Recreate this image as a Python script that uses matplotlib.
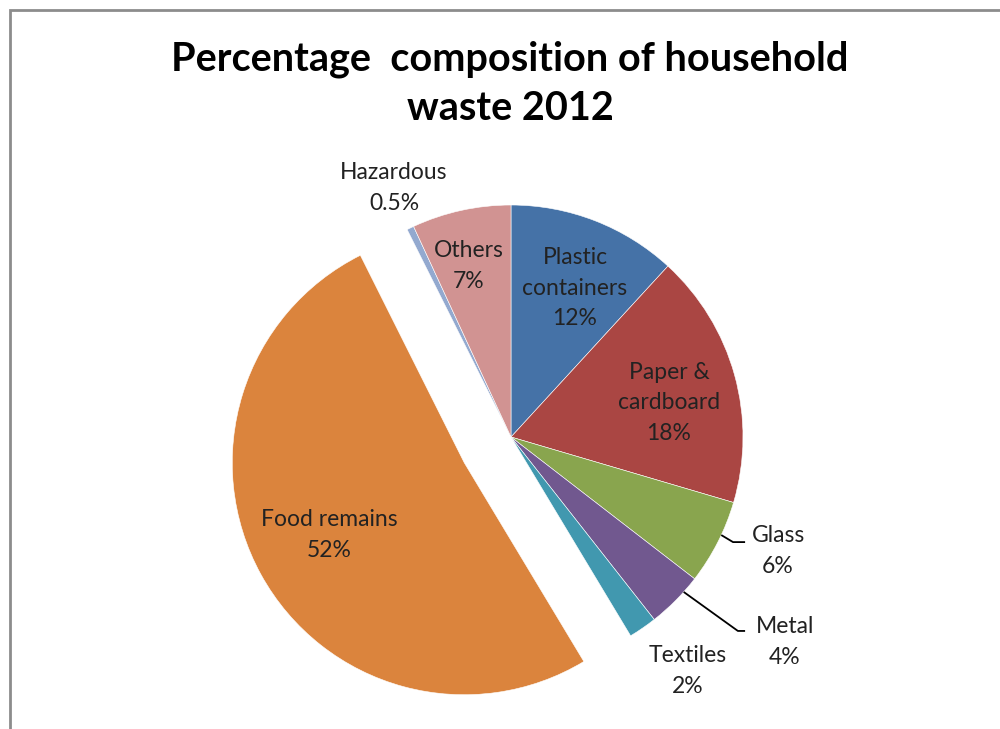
import matplotlib.pyplot as plt
from matplotlib.patches import Rectangle
import numpy as np

# household waste composition, 2012 (percent)
categories = ["Plastic\ncontainers", "Paper &\ncardboard", "Glass", "Metal",
              "Textiles", "Food remains", "Hazardous", "Others"]
shares = [12, 18, 6, 4, 2, 52, 0.5, 7]
share_labels = ["12%", "18%", "6%", "4%", "2%", "52%", "0.5%", "7%"]
colors = ["#4572A7", "#AA4643", "#89A54E", "#71588F",
          "#4198AF", "#DB843D", "#93A9CF", "#D19392"]
explode = [0, 0, 0, 0, 0, 0.23, 0, 0]

plt.rcParams['font.family'] = ['Lato', 'DejaVu Sans']

fig = plt.figure(figsize=(10, 7.29), dpi=100)
W, H = 1000, 729
cx, cy, r = 511, 437, 232  # pie centre and radius in pixels

ax = fig.add_axes([0, 0, 1, 1])
wedges, _ = ax.pie(shares, colors=colors, startangle=90, counterclock=False,
                   explode=explode, radius=1.0,
                   wedgeprops=dict(edgecolor="white", linewidth=0.4))
# pie() resets the limits, so set them afterwards
ax.set_xlim(-cx / r, (W - cx) / r)
ax.set_ylim(-(H - cy) / r, cy / r)
ax.axis("off")

# label anchors (in pie-radius units)
label_pos = [(0.276, 0.642), (0.681, 0.147), (1.151, -0.491), (1.181, -0.884),
             (0.763, -1.009), (-0.784, -0.422), (-0.504, 1.073), (-0.181, 0.737)]
for name, pct, (x, y) in zip(categories, share_labels, label_pos):
    ax.text(x, y, f"{name}\n{pct}", ha="center", va="center",
            fontsize=16.5, color="#222222", linespacing=1.55)

# leader lines for the small slices
def leader(angle_deg, bend, end):
    a = np.radians(angle_deg)
    xs = [np.cos(a), bend[0], end[0]]
    ys = [np.sin(a), bend[1], end[1]]
    ax.plot(xs, ys, color="black", lw=1.3, solid_capstyle="butt")

leader(-25, (0.957, -0.453), (1.009, -0.453))
leader(-41.9, (0.978, -0.836), (1.009, -0.836))

fig.text(510 / W, 1 - 84 / H, "Percentage  composition of household\nwaste 2012",
         ha="center", va="center", fontsize=28.5, fontweight="bold",
         linespacing=1.4, color="black")

# chart frame
fig.patches.append(Rectangle((10 / W, -0.1), 1.2, 1 - 10 / H + 0.1,
                             transform=fig.transFigure, fill=False,
                             edgecolor="#8c8c8c", lw=2))

fig.savefig("out.png", dpi=100)
